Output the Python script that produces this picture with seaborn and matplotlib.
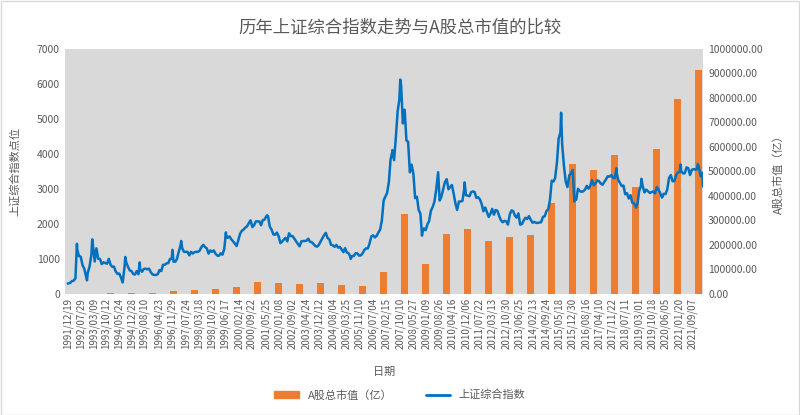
import pandas as pd
import numpy as np
import matplotlib.pyplot as plt
import matplotlib.dates as mdates
import seaborn as sns
from matplotlib.ticker import FormatStrFormatter, MultipleLocator
from matplotlib.patches import Rectangle
from matplotlib.lines import Line2D

# A股总市值（亿），每年年末
cap_years = list(range(1991, 2022))
market_cap = [109, 1048, 3531, 3691, 3474, 9842, 17529, 19506, 26471, 48091,
              43522, 38329, 42457, 37056, 32430, 89403, 327141, 121366, 243939, 265423,
              214758, 230358, 239077, 372547, 531304, 507686, 567086, 434924, 592935, 797238,
              916088]

# 上证综合指数 月末收盘（1992-01 起）
index_close = [
    313, 365, 377, 445, 1266, 1080, 1060, 820, 720, 500, 600, 780,          # 1992
    1100, 1400, 925, 1300, 1000, 1000, 850, 900, 880, 860, 1000, 833,       # 1993
    770, 780, 640, 570, 580, 470, 333, 760, 900, 770, 670, 648,             # 1994
    563, 550, 650, 560, 700, 630, 710, 720, 700, 720, 620, 555,             # 1995
    537, 540, 560, 680, 650, 830, 830, 870, 880, 1000, 1000, 917,           # 1996
    920, 1000, 1200, 1380, 1300, 1200, 1200, 1200, 1100, 1200, 1150, 1194,  # 1997
    1200, 1200, 1240, 1340, 1400, 1340, 1300, 1150, 1240, 1200, 1240, 1147, # 1998
    1090, 1090, 1160, 1120, 1280, 1690, 1600, 1640, 1560, 1500, 1440, 1367, # 1999
    1535, 1714, 1800, 1836, 1894, 1928, 2023, 2100, 1910, 1960, 2070, 2073, # 2000
    2065, 1960, 2112, 2120, 2214, 2218, 1920, 1834, 1700, 1690, 1750, 1646, # 2001
    1450, 1490, 1550, 1600, 1500, 1730, 1650, 1650, 1580, 1500, 1430, 1357, # 2002
    1500, 1510, 1510, 1520, 1576, 1487, 1476, 1420, 1367, 1348, 1397, 1497, # 2003
    1590, 1675, 1741, 1595, 1555, 1400, 1387, 1342, 1396, 1320, 1340, 1266, # 2004
    1191, 1306, 1181, 1159, 1060, 1080, 1083, 1162, 1155, 1092, 1100, 1161, # 2005
    1258, 1299, 1299, 1440, 1641, 1672, 1612, 1658, 1752, 1837, 2099, 2675, # 2006
    2786, 2881, 3183, 3841, 4109, 3820, 4471, 5218, 5552, 5955, 4871, 5262, # 2007
    4383, 4348, 3473, 3693, 3433, 2736, 2775, 2397, 2293, 1729, 1871, 1821, # 2008
    1991, 2082, 2373, 2477, 2633, 2959, 3412, 2667, 2779, 2996, 3195, 3277, # 2009
    2989, 3051, 3110, 2871, 2592, 2398, 2638, 2639, 2656, 2979, 2820, 2808, # 2010
    2790, 2905, 2928, 2911, 2743, 2762, 2701, 2568, 2359, 2468, 2333, 2199, # 2011
    2292, 2428, 2262, 2397, 2372, 2225, 2103, 2047, 2086, 2069, 1980, 2269, # 2012
    2385, 2365, 2236, 2178, 2300, 1979, 1994, 2098, 2175, 2141, 2220, 2116, # 2013
    2033, 2056, 2033, 2026, 2039, 2048, 2201, 2217, 2364, 2420, 2683, 3235, # 2014
    3210, 3310, 3748, 4442, 4612, 4277, 3664, 3206, 3053, 3383, 3445, 3539, # 2015
    2738, 2688, 3004, 2938, 2917, 2930, 2979, 3085, 3005, 3100, 3250, 3104, # 2016
    3159, 3242, 3223, 3155, 3117, 3192, 3273, 3361, 3349, 3393, 3317, 3307, # 2017
    3481, 3259, 3169, 3082, 3095, 2847, 2876, 2725, 2821, 2603, 2588, 2494, # 2018
    2585, 2941, 3091, 3078, 2899, 2979, 2933, 2886, 2905, 2929, 2872, 3050, # 2019
    2977, 2880, 2750, 2860, 2852, 2985, 3310, 3396, 3218, 3225, 3392, 3473, # 2020
    3483, 3509, 3442, 3447, 3615, 3591, 3397, 3544, 3568, 3547, 3564, 3640, # 2021
    3361, 3462,                                                             # 2022
]

# 区间高低点及首尾
extra_dates = ['1991-12-19', '1992-05-26', '1992-11-17', '1993-02-16', '1994-07-29',
               '1994-09-13', '1995-05-22', '1996-12-11', '1997-05-12', '1999-06-29',
               '2001-06-14', '2005-06-06', '2007-05-29', '2007-10-16', '2008-10-28',
               '2009-08-04', '2010-11-08', '2015-06-12', '2016-01-28', '2018-01-29',
               '2019-01-03', '2019-04-08', '2021-02-18', '2021-12-13', '2022-03-15']
extra_values = [293, 1429, 386, 1558, 325,
                1052, 897, 1258, 1510, 1756,
                2245, 998, 4053, 6124, 1664,
                3478, 3186, 5178, 2638, 3587,
                2464, 3288, 3696, 3708, 3064]

tick_labels = ['1991/12/19', '1992/07/29', '1993/03/09', '1993/10/12', '1994/05/24', '1994/12/28',
               '1995/08/10', '1996/04/23', '1996/11/29', '1997/07/24', '1998/03/18', '1998/10/23',
               '1999/06/17', '2000/02/14', '2000/09/22', '2001/05/25', '2002/01/08', '2002/09/02',
               '2003/04/24', '2003/12/12', '2004/08/04', '2005/03/25', '2005/11/10', '2006/07/04',
               '2007/02/15', '2007/10/10', '2008/05/27', '2009/01/09', '2009/08/26', '2010/04/16',
               '2010/12/06', '2011/07/22', '2012/03/13', '2012/10/30', '2013/06/25', '2014/02/13',
               '2014/09/24', '2015/05/18', '2015/12/30', '2016/08/16', '2017/04/10', '2017/11/22',
               '2018/07/11', '2019/03/01', '2019/10/18', '2020/06/05', '2021/01/20', '2021/09/07']

# build tables
monthly = pd.DataFrame({
    'date': pd.date_range('1992-01-01', periods=len(index_close), freq='ME'),
    'value': index_close,
})
extra = pd.DataFrame({'date': pd.to_datetime(extra_dates), 'value': extra_values})
idx_df = pd.concat([monthly, extra]).sort_values('date').reset_index(drop=True)

cap_df = pd.DataFrame({'date': pd.to_datetime([f'{y}-12-28' for y in cap_years]),
                       'cap': market_cap})

sns.set_style('white')
plt.rcParams['font.family'] = ['Noto Sans CJK SC', 'DejaVu Sans']
plt.rcParams['axes.unicode_minus'] = False

grey = '#595959'
orange = '#ED7D31'
blue = '#0070C0'

fig, ax = plt.subplots(figsize=(8, 4.15), dpi=100)
fig.subplots_adjust(left=0.081, right=0.879, top=0.882, bottom=0.292)
ax2 = ax.twinx()

# bars on the right axis, drawn behind the line
ax2.patch.set_visible(True)
ax2.set_facecolor('#D9D9D9')
ax2.bar(cap_df['date'], cap_df['cap'], width=110, color=orange,
        edgecolor='none', linewidth=0, zorder=2)
ax.set_zorder(ax2.get_zorder() + 1)
ax.patch.set_visible(False)

sns.lineplot(data=idx_df, x='date', y='value', ax=ax, color=blue, linewidth=1.8)

ax.set_xlim(pd.Timestamp('1991-10-28'), pd.Timestamp('2022-03-17'))
ax.set_ylim(0, 7000)
ax.yaxis.set_major_locator(MultipleLocator(1000))
ax2.set_ylim(0, 1000000)
ax2.yaxis.set_major_locator(MultipleLocator(100000))
ax2.yaxis.set_major_formatter(FormatStrFormatter('%.2f'))

ax.set_xticks(pd.to_datetime(tick_labels))
ax.set_xticklabels(tick_labels, rotation=90, fontsize=7, color=grey)
ax.tick_params(axis='y', labelsize=7.5, labelcolor=grey, length=0)
ax.tick_params(axis='x', length=0, pad=3)
ax2.tick_params(axis='y', labelsize=7.5, labelcolor=grey, length=0)

for a in (ax, ax2):
    for s in a.spines.values():
        s.set_visible(False)

ax.set_xlabel('日期', fontsize=8, color=grey)
ax.xaxis.set_label_coords(0.5, -0.30)
ax.set_ylabel('上证综合指数点位', fontsize=8, color=grey)
ax.yaxis.set_label_coords(-0.07, 0.5)
ax2.set_ylabel('A股总市值（亿）', fontsize=8, color=grey, rotation=90)
ax2.yaxis.set_label_coords(1.11, 0.5)

fig.suptitle('历年上证综合指数走势与A股总市值的比较', fontsize=12.5, color=grey, y=0.955)

handles = [Rectangle((0, 0), 1, 1, color=orange), Line2D([], [], color=blue, lw=2)]
fig.legend(handles, ['A股总市值（亿）', '上证综合指数'], loc='center',
           bbox_to_anchor=(0.5, 0.048), ncol=2, frameon=False, fontsize=8,
           labelcolor=grey, handlelength=2.2, columnspacing=3)

fig.patches.append(Rectangle((0.001, 0.001), 0.998, 0.997, transform=fig.transFigure,
                             fill=False, edgecolor='#D9D9D9', lw=1))

fig.savefig('out.png', dpi=100)
